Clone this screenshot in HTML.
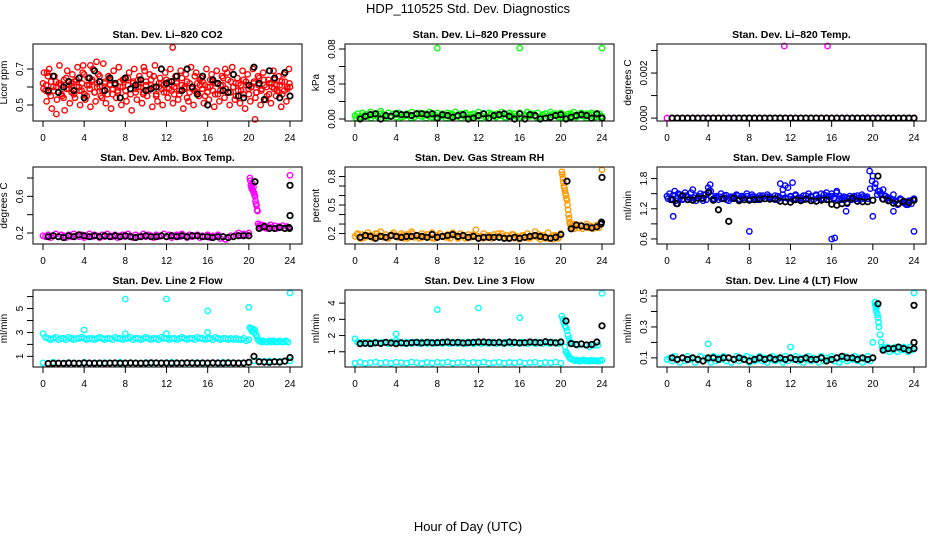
<!DOCTYPE html>
<html><head><meta charset="utf-8"><style>
body{margin:0;background:#fff;}
svg{display:block;font-family:"Liberation Sans",sans-serif;}
</style></head><body>
<svg id="chart" width="936" height="540" viewBox="0 0 936 540">
<text x="468" y="13" text-anchor="middle" font-size="13">HDP_110525  Std. Dev. Diagnostics</text>
<text x="468" y="531" text-anchor="middle" font-size="13">Hour of Day (UTC)</text>
</svg>
<script>
// ---- data ----
const xTicks = [0,4,8,12,16,20,24];
// P1 CO2
const p1Col = [0.62,0.58,0.66,0.55,0.60,0.63,0.57,0.61,0.54,0.65,0.59,0.62,0.56,0.64,0.60,0.58,0.67,0.55,0.61,0.63,0.57,0.60,0.66,0.54,0.62,0.59,0.64,0.56,0.61,0.58,0.63,0.60,0.55,0.65,0.59,0.62,0.57,0.64,0.60,0.56,0.63,0.58,0.61,0.66,0.55,0.60,0.62,0.57,0.64,0.59,0.61,0.56,0.63,0.58,0.65,0.60,0.54,0.62,0.59,0.66,0.57,0.61,0.63,0.55,0.60,0.64,0.58,0.62,0.56,0.61,0.65,0.59,0.57,0.63,0.60,0.55,0.62,0.58,0.64,0.61,0.56,0.60,0.63,0.57,0.65,0.59,0.61,0.55,0.62,0.60,0.64,0.58,0.61,0.56,0.63,0.59,0.60];
const p1Col2 = [0.68,0.52,0.70,0.48,0.66,0.53,0.72,0.55,0.47,0.69,0.51,0.67,0.54,0.71,0.50,0.68,0.53,0.65,0.49,0.70,0.52,0.67,0.55,0.73,0.51,0.66,0.48,0.69,0.54,0.71,0.50,0.64,0.52,0.68,0.47,0.70,0.53,0.66,0.51,0.69,0.55,0.67,0.49,0.72,0.52,0.65,0.50,0.68,0.54,0.70,0.51,0.66,0.53,0.69,0.48,0.67,0.52,0.71,0.50,0.68,0.55,0.65,0.51,0.70,0.53,0.67,0.49,0.69,0.52,0.66,0.54,0.68,0.50,0.71,0.53,0.65,0.51,0.69,0.48,0.67,0.52,0.70,0.54,0.66,0.50,0.68,0.53,0.64,0.51,0.69,0.55,0.66,0.49,0.67,0.52,0.70];
const p1Col3 = [0.59,0.61,0.57,0.63,0.58,0.60,0.62,0.56,0.64,0.59,0.61,0.57,0.63,0.60,0.58,0.62,0.56,0.61,0.59,0.64,0.57,0.62,0.60,0.58,0.63,0.56,0.61,0.59,0.62,0.57,0.60,0.64,0.58,0.61,0.56,0.63,0.59,0.60,0.62,0.57,0.61,0.58,0.64,0.60,0.56,0.62,0.59,0.61,0.57,0.63,0.58,0.60,0.62,0.56,0.61,0.59,0.63,0.57,0.60,0.58,0.62,0.64,0.59,0.61,0.57,0.60,0.63,0.56,0.62,0.58,0.61,0.59,0.64,0.57,0.60,0.62,0.58,0.61,0.56,0.63,0.59,0.60,0.62,0.57,0.61,0.58,0.64,0.60,0.56,0.62,0.59,0.61,0.57,0.63,0.58,0.60,0.62];
const p1OutH = [12.6,1.3,20.6,3.9,5.2,9.8,17.7,0.4,4.6];
const p1OutV = [0.82,0.45,0.42,0.72,0.74,0.71,0.70,0.68,0.72];
const p1Blk = [0.58,0.66,0.57,0.60,0.63,0.58,0.65,0.54,0.65,0.69,0.63,0.58,0.65,0.62,0.54,0.65,0.59,0.61,0.64,0.58,0.59,0.60,0.70,0.62,0.63,0.66,0.58,0.70,0.60,0.56,0.66,0.50,0.64,0.62,0.58,0.57,0.67,0.55,0.54,0.61,0.71,0.62,0.53,0.69,0.65,0.54,0.68,0.55];
// P2 pressure
const p2Col = [0.004,0.006,0.002,0.007,0.005,0.003,0.008,0.004,0.006,0.002,0.009,0.005,0.003,0.007,0.004,0.006,0.002,0.007,0.005,0.003,0.006,0.004,0.008,0.002,0.005,0.007,0.003,0.006,0.004,0.008,0.002,0.005,0.007,0.003,0.006,0.004,0.007,0.002,0.005,0.008,0.003,0.006,0.004,0.007,0.002,0.005,0.006,0.003,0.008,0.004,0.006,0.002,0.007,0.005,0.003,0.006,0.004,0.008,0.002,0.005,0.007,0.003,0.006,0.004,0.007,0.002,0.005,0.008,0.003,0.006,0.004,0.007,0.002,0.005,0.006,0.003,0.008,0.004,0.006,0.002,0.007,0.005,0.003,0.006,0.004,0.008,0.002,0.005,0.007,0.003,0.006,0.004,0.007,0.002,0.005,0.006,0.003];
const p2Col2 = [0.001,0.003,0.005,0.001,0.004,0.006,0.001,0.003,0.005,0.002,0.004,0.001,0.006,0.003,0.001,0.005,0.002,0.004,0.001,0.006,0.003,0.001,0.005,0.002,0.004,0.001,0.003,0.006,0.002,0.004,0.001,0.005,0.003,0.001,0.004,0.006,0.002,0.003,0.001,0.005,0.004,0.002,0.001,0.006,0.003,0.004,0.001,0.005,0.002,0.003];
const p2OutH = [8,16,24];
const p2OutV = [0.081,0.081,0.081];
const p2Blk = [0.000,0.003,0.005,0.006,0.000,0.004,0.003,0.006,0.005,0.005,0.004,0.006,0.006,0.005,0.006,0.001,0.005,0.004,0.002,0.004,0.005,0.000,0.001,0.004,0.006,0.001,0.004,0.005,0.006,0.003,0.000,0.006,0.000,0.005,0.004,0.000,0.001,0.002,0.004,0.005,0.000,0.002,0.004,0.005,0.004,0.001,0.006,0.001];
// P3 Li-820 temp
const p3Col = [0,0,0,0,0,0,0,0,0,0,0,0,0,0,0,0,0,0,0,0,0,0,0,0,0,0,0,0,0,0,0,0,0,0,0,0,0,0,0,0,0,0,0,0,0,0,0,0,0];
const p3OutH = [11.4,15.6];
const p3OutV = [0.0032,0.0032];
const p3Blk = [0,0,0,0,0,0,0,0,0,0,0,0,0,0,0,0,0,0,0,0,0,0,0,0,0,0,0,0,0,0,0,0,0,0,0,0,0,0,0,0,0,0,0,0,0,0,0,0];
// P4 ambient box temp
const p4Col = [0.17,0.16,0.18,0.15,0.17,0.19,0.16,0.18,0.17,0.15,0.18,0.16,0.19,0.17,0.16,0.18,0.15,0.17,0.19,0.16,0.18,0.17,0.15,0.18,0.16,0.19,0.17,0.16,0.18,0.15,0.17,0.18,0.16,0.19,0.17,0.15,0.18,0.16,0.17,0.19,0.16,0.18,0.17,0.15,0.18,0.16,0.17,0.19,0.16,0.18,0.15,0.17,0.18,0.16,0.19,0.17,0.15,0.18,0.16,0.17,0.18,0.15,0.17,0.16,0.18,0.15,0.17,0.16,0.18,0.14,0.16,0.13,0.15,0.17,0.16,0.18,0.20,0.17,0.19,0.18,0.20];
const p4ColH = [20.1,20.15,20.2,20.25,20.3,20.35,20.4,20.45,20.5,20.55,20.6,20.65,20.7,20.75,20.8,20.85,20.9,21.0,21.1,21.2,21.3,21.5,21.7,21.9,22.1,22.3,22.5,22.7,22.9,23.1,23.3,23.5,23.7,23.9,24.0];
const p4ColV = [0.80,0.77,0.72,0.70,0.68,0.74,0.66,0.70,0.64,0.62,0.60,0.55,0.52,0.50,0.45,0.44,0.30,0.28,0.27,0.29,0.26,0.28,0.25,0.27,0.29,0.26,0.28,0.25,0.27,0.26,0.28,0.25,0.27,0.26,0.83];
const p4Blk = [0.16,0.17,0.16,0.15,0.17,0.16,0.18,0.17,0.16,0.17,0.16,0.17,0.16,0.17,0.16,0.17,0.16,0.15,0.16,0.17,0.16,0.16,0.17,0.16,0.17,0.16,0.17,0.16,0.17,0.17,0.16,0.16,0.15,0.16,0.16,0.15,0.16,0.17,0.17,0.17];
const p4BlkH = [20.6,21,21.5,22,22.5,23,23.5,23.9,23.95,24,24];
const p4BlkV = [0.76,0.25,0.27,0.25,0.25,0.26,0.25,0.26,0.25,0.72,0.39];
// P5 gas stream RH
const p5Col = [0.17,0.20,0.15,0.19,0.16,0.21,0.18,0.15,0.20,0.17,0.22,0.16,0.19,0.15,0.18,0.21,0.17,0.16,0.20,0.15,0.19,0.17,0.22,0.16,0.18,0.15,0.20,0.17,0.19,0.16,0.21,0.15,0.18,0.20,0.17,0.16,0.19,0.15,0.21,0.18,0.16,0.20,0.17,0.15,0.19,0.16,0.18,0.24,0.15,0.17,0.20,0.16,0.18,0.15,0.19,0.17,0.16,0.20,0.15,0.18,0.16,0.19,0.15,0.17,0.14,0.18,0.16,0.20,0.15,0.17,0.22,0.16,0.14,0.18,0.15,0.21,0.16,0.14,0.18,0.15,0.20];
const p5Col2 = [0.19,0.15,0.18,0.16,0.20,0.17,0.15,0.19,0.16,0.18,0.15,0.20,0.17,0.16,0.19,0.15,0.18,0.17,0.16,0.20,0.15,0.18,0.16,0.19,0.17,0.15,0.18,0.16,0.20,0.17,0.15,0.19,0.16,0.18,0.15,0.17,0.19,0.16,0.15,0.18,0.17];
const p5ColH = [20.1,20.15,20.2,20.25,20.3,20.35,20.4,20.45,20.5,20.55,20.6,20.65,20.7,20.75,20.8,20.85,20.9,21.0,21.1,21.2,21.3,21.5,21.7,21.9,22.1,22.3,22.5,22.7,22.9,23.1,23.3,23.5,23.7,23.9,24.0];
const p5ColV = [0.85,0.82,0.78,0.74,0.70,0.68,0.65,0.62,0.60,0.57,0.55,0.50,0.45,0.40,0.36,0.32,0.30,0.28,0.26,0.30,0.25,0.28,0.26,0.29,0.25,0.27,0.30,0.26,0.28,0.25,0.27,0.29,0.26,0.30,0.87];
const p5Blk = [0.16,0.18,0.17,0.15,0.17,0.16,0.18,0.17,0.16,0.17,0.17,0.18,0.17,0.16,0.19,0.16,0.17,0.18,0.19,0.17,0.18,0.16,0.17,0.15,0.16,0.16,0.16,0.16,0.15,0.15,0.16,0.15,0.16,0.17,0.18,0.17,0.16,0.15,0.16,0.19];
const p5BlkH = [20.6,21,21.5,22,22.5,23,23.5,23.9,23.95,24];
const p5BlkV = [0.75,0.25,0.29,0.28,0.27,0.26,0.27,0.30,0.32,0.79];
// P6 sample flow
const p6Col = [1.45,1.50,1.40,1.55,1.42,1.48,1.38,1.52,1.44,1.40,1.58,1.46,1.42,1.50,1.36,1.48,1.62,1.55,1.40,1.45,1.38,1.50,1.42,1.47,1.36,1.44,1.40,1.48,1.38,1.45,1.42,1.50,1.40,1.48,1.44,1.38,1.46,1.42,1.40,1.48,1.44,1.40,1.46,1.38,1.42,1.48,1.66,1.62,1.45,1.40,1.48,1.42,1.38,1.46,1.40,1.50,1.44,1.38,1.46,1.42,1.40,1.48,1.52,1.44,1.50,1.40,1.55,1.46,1.42,1.38,1.30,1.45,1.42,1.40,1.46,1.38,1.44,1.42,1.40,1.60,1.85,1.70,1.55,1.50,1.58,1.45,1.42,1.40,1.48,1.36,1.30,1.38,1.32,1.28,1.36,1.30,1.40];
const p6Col2 = [1.40,1.38,1.47,1.36,1.50,1.44,1.40,1.46,1.38,1.52,1.42,1.36,1.45,1.40,1.48,1.38,1.55,1.45,1.40,1.42,1.44,1.40,1.46,1.38,1.42,1.40,1.44,1.46,1.40,1.42,1.38,1.45,1.40,1.44,1.40,1.42,1.38,1.46,1.40,1.44,1.42,1.40,1.38,1.45,1.70,1.58,1.42,1.40,1.44,1.38,1.46,1.40,1.42,1.38,1.46,1.40,1.45,1.38,1.48,1.42,1.50,1.40,1.46,1.38,1.45,1.42,1.52,1.40,1.38,1.44,1.42,1.40,1.38,1.45,1.40,1.42,1.48,1.40,1.44,1.95,1.75,1.62,1.48,1.55,1.40,1.46,1.42,1.36,1.38,1.34,1.28,1.40,1.34,1.30,1.28,1.36,1.38];
const p6OutH = [0.6,8,16,16.3,20,24,22,17.4,0.9,4.2,12.2];
const p6OutV = [1.05,0.75,0.6,0.62,1.05,0.75,1.15,1.15,1.3,1.68,1.72];
const p6Blk = [1.38,1.30,1.46,1.38,1.37,1.41,1.41,1.52,1.37,1.18,1.40,0.95,1.41,1.36,1.38,1.37,1.38,1.39,1.40,1.39,1.40,1.35,1.34,1.33,1.38,1.36,1.39,1.36,1.35,1.37,1.38,1.29,1.27,1.30,1.32,1.41,1.35,1.34,1.34,1.37,1.85,1.39,1.36,1.31,1.30,1.35,1.32,1.37];
// P7 line 2 flow
const p7Col = [2.9,2.6,2.5,2.4,2.5,2.6,2.4,2.5,2.5,2.4,2.6,2.5,2.4,2.5,2.5,2.6,2.5,2.4,2.5,2.5,2.4,2.5,2.6,2.5,2.4,2.5,2.5,2.4,2.6,2.5,2.5,2.4,2.5,2.5,2.6,2.4,2.5,2.5,2.4,2.5,2.6,2.5,2.4,2.5,2.5,2.4,2.6,2.5,2.5,2.4,2.5,2.5,2.4,2.5,2.6,2.5,2.4,2.5,2.5,2.4,2.6,2.5,2.5,2.4,2.5,2.5,2.4,2.6,2.5,2.4,2.5,2.5,2.4,2.5,2.4,2.5,2.4,2.4,2.5,2.3,2.4];
const p7ColH = [20.1,20.2,20.3,20.4,20.5,20.6,20.7,20.8,20.9,21.0,21.2,21.4,21.6,21.8,22.0,22.2,22.4,22.6,22.8,23.0,23.2,23.4,23.6,23.8,24.0,4,8,12,16,20,8,12,16];
const p7ColV = [3.4,3.3,3.1,3.3,3.0,3.2,2.8,2.6,2.4,2.3,2.2,2.3,2.2,2.2,2.3,2.2,2.3,2.2,2.2,2.3,2.2,2.2,2.3,2.2,6.3,3.2,5.8,5.8,4.8,5.1,2.9,2.9,3.0];
const p7Col2 = [0.45,0.40,0.50,0.42,0.38,0.48,0.44,0.40,0.50,0.42,0.46,0.40,0.48,0.44,0.42,0.50,0.40,0.46,0.44,0.42,0.48,0.40,0.46,0.44,0.42,0.50,0.40,0.46,0.44,0.42,0.48,0.40,0.46,0.44,0.42,0.50,0.40,0.46,0.44,0.42,0.48,0.62,0.60,0.58,0.62,0.55,0.60,0.58,0.62];
const p7Blk = [0.40,0.42,0.43,0.42,0.44,0.43,0.42,0.45,0.44,0.43,0.44,0.42,0.44,0.45,0.43,0.44,0.45,0.44,0.43,0.44,0.46,0.45,0.44,0.45,0.43,0.45,0.44,0.46,0.45,0.44,0.45,0.44,0.46,0.45,0.44,0.46,0.45,0.44,0.45,0.50,1.00,0.55,0.52,0.50,0.55,0.52,0.60,0.90];
// P8 line 3 flow
const p8Col = [1.8,1.6,1.5,1.6,1.5,1.6,1.55,1.5,1.6,1.55,1.5,1.6,1.55,1.5,1.6,1.55,1.7,1.6,1.55,1.5,1.6,1.55,1.5,1.6,1.55,1.5,1.6,1.55,1.5,1.6,1.55,1.5,1.6,1.55,1.5,1.6,1.55,1.5,1.6,1.55,1.5,1.6,1.55,1.5,1.6,1.55,1.5,1.6,1.55,1.5,1.6,1.55,1.5,1.6,1.55,1.5,1.6,1.55,1.5,1.6,1.55,1.5,1.6,1.55,1.5,1.6,1.55,1.5,1.6,1.55,1.5,1.6,1.55,1.5,1.6,1.55,1.5,1.6,1.55,1.5,1.6];
const p8Col2 = [0.30,0.35,0.28,0.33,0.36,0.30,0.34,0.28,0.35,0.32,0.30,0.36,0.33,0.28,0.34,0.30,0.35,0.32,0.36,0.29,0.33,0.35,0.30,0.34,0.31,0.36,0.29,0.33,0.35,0.30,0.34,0.32,0.36,0.30,0.33,0.35,0.29,0.34,0.31,0.36,0.30];
const p8ColH = [20.1,20.2,20.3,20.4,20.5,20.6,20.7,20.8,20.9,21.0,20.4,20.5,20.6,20.7,20.8,20.9,21.0,21.2,21.4,21.6,21.8,22.0,22.2,22.4,22.6,22.8,23.0,23.2,23.4,23.6,23.8,24.0,21.2,21.6,22.0,22.4,22.8,23.2,23.6,4,8,12,16,24];
const p8ColV = [3.2,3.0,2.8,2.6,2.5,2.3,2.0,1.8,1.6,1.5,1.3,1.0,0.9,0.8,0.7,0.6,0.55,0.5,0.45,0.48,0.42,0.45,0.5,0.44,0.46,0.42,0.48,0.44,0.46,0.42,0.45,0.48,1.5,1.4,1.5,1.4,1.3,1.4,1.4,2.1,3.6,3.7,3.1,4.6];
const p8Blk = [1.50,1.52,1.50,1.55,1.52,1.58,1.54,1.50,1.55,1.52,1.56,1.58,1.54,1.58,1.55,1.56,1.58,1.60,1.56,1.58,1.54,1.56,1.58,1.60,1.60,1.58,1.56,1.58,1.54,1.60,1.58,1.55,1.56,1.60,1.58,1.56,1.62,1.58,1.55,1.60,2.90,1.50,1.45,1.48,1.42,1.45,1.60,2.60];
// P9 line 4 (LT) flow
const p9Col = [0.09,0.10,0.08,0.11,0.09,0.07,0.10,0.08,0.11,0.09,0.10,0.07,0.09,0.11,0.08,0.10,0.09,0.07,0.11,0.08,0.10,0.09,0.11,0.08,0.10,0.07,0.09,0.11,0.08,0.10,0.09,0.11,0.07,0.10,0.08,0.09,0.11,0.08,0.10,0.07,0.09,0.11,0.08,0.10,0.09,0.07,0.11,0.08,0.10,0.09,0.11,0.08,0.10,0.07,0.09,0.11,0.08,0.10,0.09,0.07,0.11,0.08,0.10,0.09,0.11,0.08,0.10,0.07,0.09,0.11,0.08,0.10,0.09,0.11,0.08,0.10,0.07,0.09,0.11,0.08,0.10];
const p9ColH = [20.2,20.25,20.3,20.35,20.4,20.45,20.5,20.55,20.6,20.7,20.8,20.9,21.0,21.2,21.4,21.6,21.8,22.0,22.2,22.4,22.6,22.8,23.0,23.2,23.4,23.6,23.8,24.0,4,12,20,24];
const p9ColV = [0.46,0.44,0.42,0.40,0.43,0.38,0.36,0.33,0.30,0.25,0.20,0.17,0.16,0.15,0.17,0.14,0.16,0.15,0.17,0.14,0.16,0.15,0.17,0.16,0.14,0.17,0.15,0.16,0.19,0.17,0.20,0.52];
const p9Blk = [0.10,0.09,0.10,0.09,0.10,0.09,0.08,0.10,0.10,0.09,0.10,0.10,0.09,0.10,0.09,0.08,0.09,0.10,0.09,0.10,0.09,0.10,0.09,0.10,0.09,0.09,0.10,0.09,0.09,0.10,0.08,0.09,0.10,0.11,0.10,0.10,0.09,0.10,0.09,0.10,0.45,0.15,0.16,0.16,0.17,0.16,0.15,0.44];
const p9BlkH = [24,24];
const p9BlkV = [0.20,0.16];

// ---- layout ----
const NS = "http://www.w3.org/2000/svg";
const svg = document.getElementById('chart');
function el(tag, attrs, parent){const e=document.createElementNS(NS,tag);for(const k in attrs)e.setAttribute(k,attrs[k]);(parent||svg).appendChild(e);return e;}
function regHours(n,h0,h1){const a=[];for(let i=0;i<n;i++)a.push(n===1?h0:h0+(h1-h0)*i/(n-1));return a;}

const panels = [
 {key:'co2',title:'Stan. Dev. Li\u2013820 CO2',ylab:'Licor ppm',col:0,row:0,ymin:0.411,ymax:0.839,color:'#ff0000',
  ticks:[0.5,0.6,0.7],tl:['0.5','','0.7'],
  cser:[[p1Col,0,24],[p1Col2,0.1,23.9],[p1Col3,0.05,23.95]],cx:[[p1OutH,p1OutV]],bser:[[p1Blk,0.5,24]],bx:[]},
 {key:'pressure',title:'Stan. Dev. Li\u2013820 Pressure',ylab:'kPa',col:1,row:0,ymin:-0.0023,ymax:0.0857,color:'#00ff00',
  ticks:[0,0.02,0.04,0.06,0.08],tl:['0.00','','0.04','','0.08'],
  cser:[[p2Col,0,24],[p2Col2,0.1,23.9]],cx:[[p2OutH,p2OutV]],bser:[[p2Blk,0.5,24]],bx:[]},
 {key:'li820-temp',title:'Stan. Dev. Li\u2013820 Temp.',ylab:'degrees C',col:2,row:0,ymin:-0.00013,ymax:0.00329,color:'#ff00ff',
  ticks:[0,0.001,0.002,0.003],tl:['0.000','','0.002',''],
  cser:[[p3Col,0,24]],cx:[[p3OutH,p3OutV]],bser:[[p3Blk,0.5,24]],bx:[]},
 {key:'amb-box-temp',title:'Stan. Dev. Amb. Box Temp.',ylab:'degrees C',col:0,row:1,ymin:0.08,ymax:0.92,color:'#ff00ff',
  ticks:[0.2,0.4,0.6,0.8],tl:['0.2','','0.6',''],
  cser:[[p4Col,0,20]],cx:[[p4ColH,p4ColV]],bser:[[p4Blk,0.5,20]],bx:[[p4BlkH,p4BlkV]]},
 {key:'gas-stream-rh',title:'Stan. Dev. Gas Stream RH',ylab:'percent',col:1,row:1,ymin:0.09,ymax:0.90,color:'#ff9900',
  ticks:[0.2,0.3,0.4,0.5,0.6,0.7,0.8],tl:['0.2','','','0.5','','','0.8'],
  cser:[[p5Col,0,20],[p5Col2,0.2,19.8]],cx:[[p5ColH,p5ColV]],bser:[[p5Blk,0.5,20]],bx:[[p5BlkH,p5BlkV]]},
 {key:'sample-flow',title:'Stan. Dev. Sample Flow',ylab:'ml/min',col:2,row:1,ymin:0.50,ymax:2.03,color:'#0000ff',
  ticks:[0.6,0.9,1.2,1.5,1.8],tl:['0.6','','1.2','','1.8'],
  cser:[[p6Col,0,24],[p6Col2,0.1,23.9]],cx:[[p6OutH,p6OutV]],bser:[[p6Blk,0.5,24]],bx:[]},
 {key:'line2-flow',title:'Stan. Dev. Line 2 Flow',ylab:'ml/min',col:0,row:2,ymin:0.11,ymax:6.55,color:'#00ffff',
  ticks:[1,2,3,4,5,6],tl:['1','','3','','5',''],
  cser:[[p7Col,0,20],[p7Col2,0,24]],cx:[[p7ColH,p7ColV]],bser:[[p7Blk,0.5,24]],bx:[]},
 {key:'line3-flow',title:'Stan. Dev. Line 3 Flow',ylab:'ml/min',col:1,row:2,ymin:0.06,ymax:4.81,color:'#00ffff',
  ticks:[1,2,3,4],tl:['1','2','3','4'],
  cser:[[p8Col,0,20],[p8Col2,0,20]],cx:[[p8ColH,p8ColV]],bser:[[p8Blk,0.5,24]],bx:[]},
 {key:'line4-flow',title:'Stan. Dev. Line 4 (LT) Flow',ylab:'ml/min',col:2,row:2,ymin:0.041,ymax:0.539,color:'#00ffff',
  ticks:[0.1,0.2,0.3,0.4,0.5],tl:['0.1','','0.3','','0.5'],
  cser:[[p9Col,0,20]],cx:[[p9ColH,p9ColV]],bser:[[p9Blk,0.5,24]],bx:[[p9BlkH,p9BlkV]]}
];

panels.forEach(p=>{
  const L = 33 + p.col*312, R = L + 269, T = 44 + p.row*123, B = T + 77;
  const xs = h => L + 10 + h*(247/24);
  const ys = v => B - (v - p.ymin)/(p.ymax - p.ymin)*(B - T);
  const g = el('g',{});
  
  
  const t = el('text',{x:(L+R)/2,y:T-6,'text-anchor':'middle','font-size':'10.5','font-weight':'bold'},g);
  t.textContent = p.title;
  
  
  const cx = L-16, cy=(T+B)/2;
  const yl = el('text',{x:L-26,y:cy,'text-anchor':'middle','font-size':'10',transform:`rotate(-90 ${L-26} ${cy})`},g);
  yl.textContent = p.ylab;
  
  
  // colored points
  const cg = el('g',{fill:'none',stroke:p.color,'stroke-width':'1.4'},g);
  
  
  p.cser.forEach(([vals,h0,h1])=>{const hs=regHours(vals.length,h0,h1);vals.forEach((v,i)=>{const c=el('circle',{cx:xs(hs[i]),cy:ys(v),r:2.7},cg);});});
  p.cx.forEach(([hs,vals])=>{vals.forEach((v,i)=>{const c=el('circle',{cx:xs(hs[i]),cy:ys(v),r:2.7},cg);});});
  // black points
  const bg = el('g',{fill:'none',stroke:'#000','stroke-width':'1.8'},g);
  
  
  p.bser.forEach(([vals,h0,h1])=>{const hs=regHours(vals.length,h0,h1);vals.forEach((v,i)=>{const c=el('circle',{cx:xs(hs[i]),cy:ys(v),r:2.7},bg);});});
  p.bx.forEach(([hs,vals])=>{vals.forEach((v,i)=>{const c=el('circle',{cx:xs(hs[i]),cy:ys(v),r:2.7},bg);});});
  // box
  const box = el('rect',{x:L,y:T,width:R-L,height:B-T,fill:'none',stroke:'#000','stroke-width':'1'},g);
  
  
  // x axis
  const xa = el('g',{},g);
  
  
  xTicks.forEach(h=>{
    el('line',{x1:xs(h),x2:xs(h),y1:B,y2:B+6,stroke:'#000'},xa);
    const tx = el('text',{x:xs(h),y:B+20,'text-anchor':'middle','font-size':'10'},xa);
    tx.textContent = String(h);
  });
  // y axis
  const ya = el('g',{},g);
  
  
  p.ticks.forEach((v,i)=>{
    const y = ys(v);
    el('line',{x1:L-6,x2:L,y1:y,y2:y,stroke:'#000'},ya);
    if(p.tl[i]){
      const tx = el('text',{x:L-10,y:y,'text-anchor':'middle','font-size':'10',transform:`rotate(-90 ${L-10} ${y})`},ya);
      tx.textContent = p.tl[i];
    }
  });
});
</script>
</body></html>
